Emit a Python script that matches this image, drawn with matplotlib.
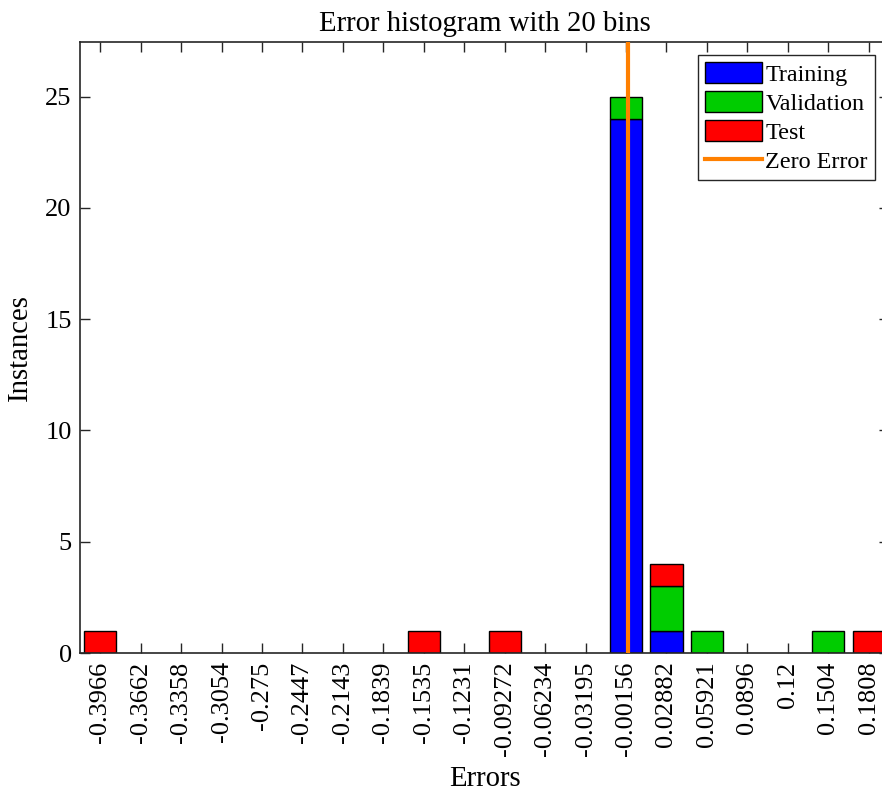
import numpy as np
import matplotlib
matplotlib.use("Agg")
import matplotlib.pyplot as plt
from matplotlib.patches import Patch
from matplotlib.lines import Line2D

tick_labels = ["-0.3966", "-0.3662", "-0.3358", "-0.3054", "-0.275", "-0.2447",
               "-0.2143", "-0.1839", "-0.1535", "-0.1231", "-0.09272", "-0.06234",
               "-0.03195", "-0.00156", "0.02882", "0.05921", "0.0896", "0.12",
               "0.1504", "0.1808"]
training   = [0, 0, 0, 0, 0, 0, 0, 0, 0, 0, 0, 0, 0, 24, 1, 0, 0, 0, 0, 0]
validation = [0, 0, 0, 0, 0, 0, 0, 0, 0, 0, 0, 0, 0, 1, 2, 1, 0, 0, 1, 0]
test       = [1, 0, 0, 0, 0, 0, 0, 0, 1, 0, 1, 0, 0, 0, 1, 0, 0, 0, 0, 1]

plt.rcParams['font.family'] = ['Liberation Serif', 'DejaVu Serif']

centers = np.array([float(t) for t in tick_labels])
d = (centers[-1] - centers[0]) / (len(centers) - 1)
w = 0.8 * d
tr = np.array(training)
va = np.array(validation)
te = np.array(test)

fig = plt.figure(figsize=(8.82, 7.93), dpi=100)
ax = fig.add_axes([80/882, (793-653)/793, (889-80)/882, 611/793])

blue = '#0000ff'
green = '#00cc00'
red = '#ff0000'
orange = '#ff8000'

def draw(vals, bottom, color):
    m = vals > 0
    ax.bar(centers[m], vals[m], width=w, bottom=bottom[m], color=color,
           edgecolor='black', linewidth=1.0, zorder=2)

draw(tr, np.zeros_like(tr), blue)
draw(va, tr, green)
draw(te, tr + va, red)

ax.axvline(0, color=orange, linewidth=3, zorder=3)

ax.set_xlim(centers[0] - 0.5 * d, centers[-1] + 0.5 * d)
ax.set_ylim(0, 27.45)
ax.set_xticks(centers)
ax.set_xticklabels(tick_labels, rotation=90, fontsize=19)
ax.set_yticks([0, 5, 10, 15, 20, 25])
ax.tick_params(axis='y', labelsize=19)
ax.tick_params(direction='in', top=True, right=True, length=7, width=1,
               color='#262626', pad=6)
for s in ax.spines.values():
    s.set_color('#262626')
    s.set_linewidth(1.2)

ax.set_title("Error histogram with 20 bins", fontsize=20.7, pad=8)
ax.set_xlabel("Errors", fontsize=20.7, labelpad=7)
ax.set_ylabel("Instances", fontsize=20.7, labelpad=9)

handles = [Patch(facecolor=blue, edgecolor='black', label='Training'),
           Patch(facecolor=green, edgecolor='black', label='Validation'),
           Patch(facecolor=red, edgecolor='black', label='Test'),
           Line2D([0], [0], color=orange, linewidth=3, label='Zero Error')]
leg = ax.legend(handles=handles, loc='upper right', fontsize=17.4,
                bbox_to_anchor=((875-80)/809, (653-55)/611),
                fancybox=False, framealpha=1, edgecolor='#262626',
                handlelength=2.35, handleheight=0.95, handletextpad=0.15,
                labelspacing=0.22, borderpad=0.3, borderaxespad=0)
leg.get_frame().set_linewidth(1.0)

fig.savefig("out.png", dpi=100)
